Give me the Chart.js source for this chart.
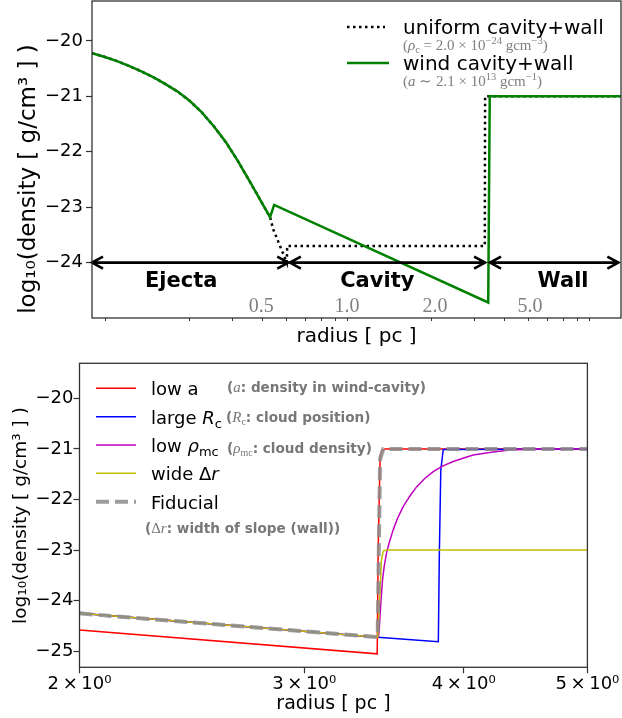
<!DOCTYPE html>
<html>
<head>
<meta charset="utf-8">
<title>Density profiles</title>
<script src="https://cdn.jsdelivr.net/npm/chart.js"></script>
<style>
  body { margin: 0; background: #fff; }
  canvas { position: absolute; left: 0; }
</style>
</head>
<body>
<canvas id="topChart" width="622" height="360" style="top:0"></canvas>
<canvas id="bottomChart" width="622" height="358" style="top:360px"></canvas>
<script>
// ---- top panel data (radius in pc, log10 density) ----
var ejectaR   = [0.0788, 0.0891, 0.1, 0.112, 0.126, 0.141, 0.158, 0.178, 0.2, 0.224, 0.251, 0.282, 0.316, 0.355, 0.398, 0.429];
var ejectaRho = [-20.22, -20.29, -20.365, -20.45, -20.55, -20.655, -20.775, -20.915, -21.085, -21.29, -21.54, -21.83, -22.17, -22.55, -22.93, -23.18];
var uniformR   = [0.442, 0.487, 0.503, 0.505, 3.31, 3.32, 12.1];
var uniformRho = [-23.40, -23.85, -24.00, -23.70, -23.70, -21.00, -21.00];
var windR   = [0.446, 3.42, 3.47, 12.1];
var windRho = [-22.96, -24.72, -21.00, -21.00];

var topYTicks = [-20, -21, -22, -23, -24];
var topXMinor = [0.09, 0.2, 0.3, 0.4, 0.5, 0.6, 0.7, 0.8, 0.9, 2, 3, 4, 5, 6, 7, 8, 9];

var regionNames  = ['Ejecta', 'Cavity', 'Wall'];
var regionFrom   = [0.0788, 0.518, 3.48];
var regionTo     = [0.51, 3.32, 11.8];
var regionTextR  = [0.184, 1.19, 6.97];
var markLabels   = ['0.5', '1.0', '2.0', '5.0'];
var markR        = [0.394, 0.892, 2.06, 5.09];

// ---- bottom panel data ----
var fidR   = [2.0, 3.425, 3.432, 3.44, 3.46, 5.0];
var fidRho = [-24.25, -24.72, -23.0, -21.2, -21.0, -21.0];
var lowAR   = [2.0, 3.422, 3.428, 3.44, 3.45, 3.47, 5.0];
var lowARho = [-24.58, -25.05, -23.0, -21.15, -21.03, -21.0, -21.0];
var largeRcR   = [2.0, 3.425, 3.821, 3.828, 3.838, 3.855, 5.0];
var largeRcRho = [-24.25, -24.72, -24.81, -23.06, -21.42, -21.01, -21.0];
var lowRhoR   = [2.0, 3.425, 3.43, 3.435, 3.443, 3.45, 3.455, 3.465, 3.48, 3.50, 3.522, 3.55, 3.586, 3.63, 3.674,
                 3.73, 3.786, 3.85, 3.925, 4.0, 4.069, 4.14, 4.219, 4.347, 4.45, 4.6, 5.0];
var lowRhoRho = [-24.25, -24.72, -24.70, -24.55, -24.12, -23.80, -23.59, -23.33, -23.06, -22.82, -22.60, -22.37, -22.14, -21.93, -21.75,
                 -21.58, -21.45, -21.34, -21.25, -21.18, -21.12, -21.09, -21.06, -21.02, -21.01, -21.0, -21.0];
var wideDrR   = [2.0, 3.425, 3.44, 3.448, 3.46, 3.48, 5.0];
var wideDrRho = [-24.25, -24.72, -23.8, -23.2, -23.02, -23.0, -23.0];

var botYTicks = [-20, -21, -22, -23, -24, -25];
var botXTicks = [2, 3, 4, 5];

var SANS = 'DejaVu Sans';
var SERIF = 'Liberation Serif';
var Y_TITLE = 'log\u2081\u2080(density [ g/cm\u00b3 ] )';

function pts(rs, vs) {
    return rs.map(function(r, i) { return {x: r, y: vs[i]}; });
}
function minus(v) { return v < 0 ? '\u2212' + (-v) : String(v); }

// draw a row of text pieces: [text, font, dy, color]
function rich(ctx, x, y, parts, color) {
    parts.forEach(function(p) {
        ctx.font = p[1];
        ctx.fillStyle = p[3] || color;
        ctx.fillText(p[0], x, y + (p[2] || 0));
        x += ctx.measureText(p[0]).width;
    });
}

function arrow(ctx, x1, x2, y) {
    var hl = 11, hw = 6;
    ctx.beginPath();
    ctx.moveTo(x1, y); ctx.lineTo(x2, y);
    ctx.moveTo(x1 + hl, y - hw); ctx.lineTo(x1, y); ctx.lineTo(x1 + hl, y + hw);
    ctx.moveTo(x2 - hl, y - hw); ctx.lineTo(x2, y); ctx.lineTo(x2 - hl, y + hw);
    ctx.stroke();
}

function yTitle(ctx, cx, cy, size) {
    ctx.save();
    ctx.translate(cx, cy);
    ctx.rotate(-Math.PI / 2);
    ctx.textAlign = 'center';
    ctx.textBaseline = 'middle';
    ctx.fillStyle = '#000';
    ctx.font = size + 'px ' + SANS;
    ctx.fillText(Y_TITLE, 0, 0);
    ctx.restore();
}

var boxPlugin = {
    id: 'box',
    afterDraw: function(chart) {
        var a = chart.chartArea, ctx = chart.ctx;
        ctx.save();
        ctx.strokeStyle = '#333';
        ctx.lineWidth = 1.3;
        ctx.strokeRect(a.left, a.top, a.right - a.left, a.bottom - a.top);
        ctx.restore();
    }
};

var topNotes = {
    id: 'topNotes',
    afterDatasetsDraw: function(chart) {
        var ctx = chart.ctx, sx = chart.scales.x, sy = chart.scales.y;
        ctx.save();
        // region arrows
        ctx.strokeStyle = '#000';
        ctx.lineWidth = 2.6;
        ctx.lineJoin = 'miter';
        var ay = sy.getPixelForValue(-24);
        for (var i = 0; i < regionNames.length; i++) {
            arrow(ctx, sx.getPixelForValue(regionFrom[i]), sx.getPixelForValue(regionTo[i]), ay);
        }
        ctx.textAlign = 'center';
        ctx.textBaseline = 'middle';
        ctx.fillStyle = '#000';
        ctx.font = 'bold 21px ' + SANS;
        for (i = 0; i < regionNames.length; i++) {
            ctx.fillText(regionNames[i], sx.getPixelForValue(regionTextR[i]), sy.getPixelForValue(-24.34));
        }
        ctx.fillStyle = '#7f7f7f';
        ctx.font = '20px ' + SERIF;
        for (i = 0; i < markLabels.length; i++) {
            ctx.fillText(markLabels[i], sx.getPixelForValue(markR[i]), sy.getPixelForValue(-24.8));
        }
        // legend
        ctx.textAlign = 'left';
        ctx.textBaseline = 'alphabetic';
        ctx.lineWidth = 2.5;
        ctx.strokeStyle = '#000';
        ctx.setLineDash([2.5, 3.5]);
        ctx.beginPath(); ctx.moveTo(347, 27); ctx.lineTo(385, 27); ctx.stroke();
        ctx.setLineDash([]);
        ctx.strokeStyle = '#008000';
        ctx.beginPath(); ctx.moveTo(347, 63); ctx.lineTo(389, 63); ctx.stroke();
        ctx.fillStyle = '#000';
        ctx.font = '20px ' + SANS;
        ctx.fillText('uniform cavity+wall', 403, 34);
        ctx.fillText('wind cavity+wall', 403, 70);
        var g = '#7f7f7f', f = '15px ' + SERIF, fi = 'italic 15px ' + SERIF, fs = '10.5px ' + SERIF;
        rich(ctx, 403, 50, [['(', f], ['\u03c1', fi], ['c', fs, 3], [' = 2.0 \u00d7 10', f], ['\u221224', fs, -6],
            [' gcm', f], ['\u22123', fs, -6], [')', f]], g);
        rich(ctx, 403, 86, [['(', f], ['a', fi], [' \u223c 2.1 \u00d7 10', f], ['13', fs, -6],
            [' gcm', f], ['\u22121', fs, -6], [')', f]], g);
        ctx.restore();
        yTitle(ctx, 29, 179, 23);
    }
};

var botLegendColors = ['#ff0000', '#0000ff', '#bf00bf', '#bfbf00'];
var botNotes = {
    id: 'botNotes',
    afterDatasetsDraw: function(chart) {
        var ctx = chart.ctx;
        ctx.save();
        var rows = [28.3, 56.7, 85, 113.3, 141.7];
        ctx.lineWidth = 1.5;
        for (var i = 0; i < 4; i++) {
            ctx.strokeStyle = botLegendColors[i];
            ctx.beginPath(); ctx.moveTo(96, rows[i]); ctx.lineTo(136, rows[i]); ctx.stroke();
        }
        ctx.strokeStyle = 'rgba(140,140,140,0.85)';
        ctx.lineWidth = 4;
        ctx.setLineDash([13, 6]);
        ctx.beginPath(); ctx.moveTo(96, rows[4]); ctx.lineTo(136, rows[4]); ctx.stroke();
        ctx.setLineDash([]);
        ctx.textAlign = 'left';
        ctx.textBaseline = 'alphabetic';
        var f = '18px ' + SANS, fi = 'italic 18px ' + SANS, fs = '13px ' + SANS;
        var tx = 151;
        rich(ctx, tx, rows[0] + 7, [['low a', f]], '#000');
        rich(ctx, tx, rows[1] + 7, [['large ', f], ['R', fi], ['c', fs, 4]], '#000');
        rich(ctx, tx, rows[2] + 7, [['low ', f], ['\u03c1', fi], ['mc', fs, 4]], '#000');
        rich(ctx, tx, rows[3] + 7, [['wide \u0394', f], ['r', fi]], '#000');
        rich(ctx, tx, rows[4] + 7, [['Fiducial', f]], '#000');
        var g = '#777', gf = 'bold 13.6px ' + SANS, gi = 'italic 15px ' + SERIF, gs = '10px ' + SERIF;
        rich(ctx, 227, 31.5, [['(', gf], ['a', gi], [': density in wind-cavity)', gf]], g);
        rich(ctx, 226, 61.5, [['(', gf], ['R', gi], ['c', gs, 3], [': cloud position)', gf]], g);
        rich(ctx, 227, 93, [['(', gf], ['\u03c1', gi], ['mc', gs, 3], [': cloud density)', gf]], g);
        rich(ctx, 145, 173, [['(', gf], ['\u0394', '15px ' + SERIF], ['r', gi], [': width of slope (wall))', gf]], g);
        ctx.restore();
        yTitle(ctx, 21, 155.5, 18.5);
    }
};

function yAxis(ticks, min, max, width, labelPad) {
    return {
        type: 'linear', min: min, max: max,
        afterBuildTicks: function(s) { s.ticks = ticks.map(function(v) { return {value: v}; }); },
        afterFit: function(s) { s.width = width; s.paddingTop = 0; s.paddingBottom = 0; },
        ticks: { autoSkip: false, padding: labelPad, color: '#000',
                 font: {family: SANS, size: 18}, callback: function(v) { return minus(v); } },
        grid: { drawOnChartArea: false, tickLength: 6, tickWidth: 1.2, tickColor: '#333' },
        border: { display: false },
        title: { display: false }
    };
}

new Chart(document.getElementById('topChart'), {
    type: 'line',
    data: {
        datasets: [{
            data: pts(ejectaR.concat(windR), ejectaRho.concat(windRho)),
            borderColor: '#008000', borderWidth: 2.5, pointRadius: 0, order: 0
        }, {
            data: pts(ejectaR.concat(uniformR), ejectaRho.concat(uniformRho)),
            borderColor: '#000', borderWidth: 2.5, borderDash: [2.5, 3.5], pointRadius: 0, order: 1
        }]
    },
    options: {
        responsive: false, animation: false, devicePixelRatio: 1, events: [],
        layout: { padding: {top: 1, right: 1, left: 0, bottom: 0} },
        plugins: { legend: {display: false}, tooltip: {enabled: false} },
        scales: {
            x: {
                type: 'logarithmic', min: 0.0788, max: 12.1,
                afterBuildTicks: function(s) { s.ticks = topXMinor.map(function(v) { return {value: v}; }); },
                afterFit: function(s) { s.height = 42; s.paddingLeft = 0; s.paddingRight = 0; },
                ticks: { autoSkip: false, maxRotation: 0, callback: function() { return ''; } },
                grid: { drawOnChartArea: false, tickLength: 3, tickWidth: 1, tickColor: '#333' },
                border: { display: false },
                title: { display: true, text: 'radius [ pc ]', color: '#000',
                         font: {family: SANS, size: 20}, padding: {top: 0, bottom: 11} }
            },
            y: yAxis(topYTicks, -25, -19.28, 92, 3)
        }
    },
    plugins: [topNotes, boxPlugin]
});

new Chart(document.getElementById('bottomChart'), {
    type: 'line',
    data: {
        datasets: [
            { data: pts(lowAR, lowARho), borderColor: '#ff0000', borderWidth: 1.5, pointRadius: 0, order: 4 },
            { data: pts(largeRcR, largeRcRho), borderColor: '#0000ff', borderWidth: 1.5, pointRadius: 0, order: 3 },
            { data: pts(lowRhoR, lowRhoRho), borderColor: '#bf00bf', borderWidth: 1.5, pointRadius: 0, order: 2 },
            { data: pts(wideDrR, wideDrRho), borderColor: '#bfbf00', borderWidth: 1.5, pointRadius: 0, order: 1 },
            { data: pts(fidR, fidRho), borderColor: 'rgba(140,140,140,0.85)', borderWidth: 4,
              borderDash: [13, 6], pointRadius: 0, order: 0 }
        ]
    },
    options: {
        responsive: false, animation: false, devicePixelRatio: 1, events: [],
        layout: { padding: {top: 3.3, right: 34.6, left: 0, bottom: 0} },
        plugins: { legend: {display: false}, tooltip: {enabled: false} },
        scales: {
            x: {
                type: 'logarithmic', min: 2, max: 5,
                afterBuildTicks: function(s) { s.ticks = botXTicks.map(function(v) { return {value: v}; }); },
                afterFit: function(s) { s.height = 50.7; s.paddingLeft = 0; s.paddingRight = 0; },
                ticks: { autoSkip: false, maxRotation: 0, padding: 0, color: '#000',
                         font: {family: SANS, size: 18},
                         callback: function(v) { return v + '\u2009\u00d7\u200910\u2070'; } },
                grid: { drawOnChartArea: false, tickLength: 6, tickWidth: 1.2, tickColor: '#333' },
                border: { display: false },
                title: { display: true, text: 'radius [ pc ]', color: '#000',
                         font: {family: SANS, size: 19}, padding: {top: 0, bottom: 3} }
            },
            y: yAxis(botYTicks, -25.316, -19.308, 79.5, 0)
        }
    },
    plugins: [botNotes, boxPlugin]
});
</script>
</body>
</html>
